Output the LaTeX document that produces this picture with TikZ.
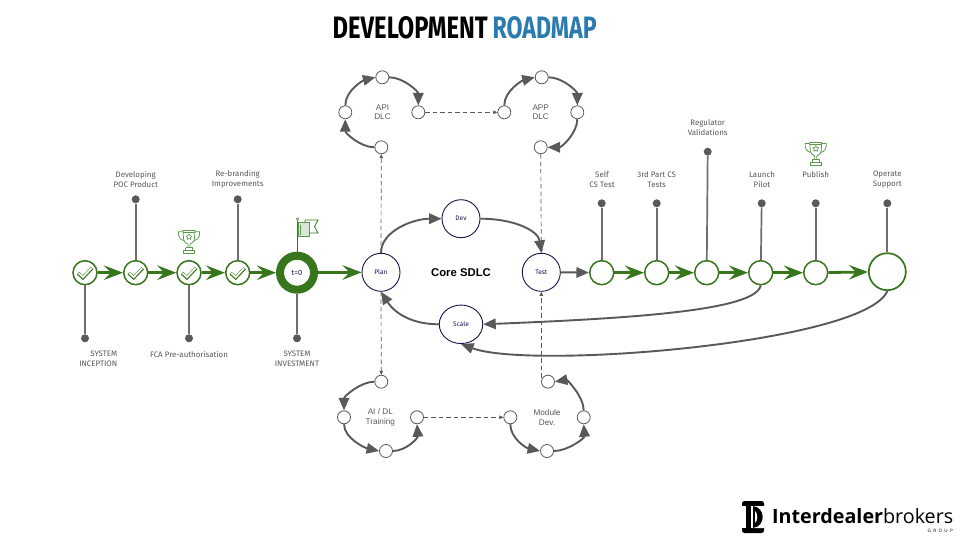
\documentclass[tikz,border=0pt]{standalone}
\usepackage{fontspec}
\usepackage{graphicx}
\setmainfont{Fira Sans}
\newfontfamily\arial{Liberation Sans}
\newfontfamily\logofont{Open Sans}
\usetikzlibrary{arrows.meta,shapes.geometric}
\definecolor{grn}{HTML}{38761D}
\definecolor{lgrn}{HTML}{5E9A4C}
\definecolor{gry}{HTML}{595959}
\definecolor{pin}{HTML}{6E6E6E}
\definecolor{navy}{HTML}{20124D}
\definecolor{blu}{HTML}{2A7CB0}
\tikzset{
  mile/.style={circle,draw=grn,fill=white,line width=1.5pt,minimum size=24pt,inner sep=0pt},
  bigmile/.style={circle,draw=grn,fill=white,line width=1.7pt,minimum size=37pt,inner sep=0pt},
  ring/.style={circle,draw=grn,fill=white,line width=8pt,minimum size=34pt,inner sep=0pt,text=navy,font=\fontsize{7.5}{8}\selectfont},
  dot/.style={circle,fill=gry,minimum size=8pt,inner sep=0pt},
  pinline/.style={draw=pin,line width=1.7pt},
  garrow/.style={draw=grn,line width=2.8pt,-{Stealth[length=19pt,width=14.5pt,inset=7pt]}},
  sdlc/.style={circle,draw=navy,fill=white,line width=.9pt,minimum size=38pt,inner sep=0pt,text=navy,font=\fontsize{6.6}{7}\selectfont},
  sub/.style={circle,draw=gry,fill=white,line width=.8pt,minimum size=13pt,inner sep=0pt},
  garc/.style={draw=gry,line width=1.9pt,-{Triangle[length=12.5pt,width=10.5pt]}},
  dasharr/.style={draw=gry,line width=.7pt,dash pattern=on 4.5pt off 3pt,-{Triangle[length=4pt,width=3.5pt]}},
  lbl/.style={text=gry,font=\fontsize{7.9}{10}\selectfont,align=center,inner sep=0pt},
  alb/.style={text=gry,font=\arial\fontsize{8.2}{9.8}\selectfont,align=center,inner sep=0pt},
  trophyline/.style={draw=lgrn,line width=.8pt,line join=round},
}
\newcommand{\trophyicon}[2]{%
  \begin{scope}[shift={(#1,#2)}]
    \draw[trophyline] (-6,-11.5) -- (6,-11.5) (-6,-9.5) -- (6,-9.5);
    \draw[trophyline] (-6,-11.5) -- (-5.5,-3) .. controls (-5,1) and (-2,1.5) .. (-1,2.5) -- (-1,6) (6,-11.5) -- (5.5,-3) .. controls (5,1) and (2,1.5) .. (1,2.5) -- (1,6);
    \draw[trophyline] (-6,-10) -- (-10.5,-10) .. controls (-11,-5) and (-9,-2) .. (-5,-1) (6,-10) -- (10.5,-10) .. controls (11,-5) and (9,-2) .. (5,-1);
    \draw[trophyline] (-3.5,6) -- (3.5,6) -- (3.5,9) (-3.5,6) -- (-3.5,9) (-5.5,9) rectangle (5.5,12);
    \draw[trophyline,line width=.6pt] (0,-8) -- (1,-6) -- (3,-5.7) -- (1.5,-4.2) -- (1.9,-2.2) -- (0,-3.2) -- (-1.9,-2.2) -- (-1.5,-4.2) -- (-3,-5.7) -- (-1,-6) -- cycle;
  \end{scope}}
\newcommand{\checkicon}[2]{%
  \begin{scope}[shift={(#1,#2)}]
    \draw[grn,line width=3.4pt,line join=miter] (-7,0.5) -- (-2,5) -- (7,-4.5);
    \draw[white,line width=1.7pt,line join=miter] (-6.4,0.5) -- (-2,4.5) -- (6.4,-4.5);
  \end{scope}}
\begin{document}
\begin{tikzpicture}[x=1pt,y=-1pt]
\useasboundingbox (0,0) rectangle (960,540);
\fill[white] (0,0) rectangle (960,540);

% title
\node[anchor=west,inner sep=0pt] (t1) at (332.5,28) {\resizebox{155pt}{22pt}{\bfseries DEVELOPMENT}};
\node[anchor=west,inner sep=0pt,text=blu] (t2) at (492.5,28) {\resizebox{104pt}{22pt}{\bfseries ROADMAP}};

% left milestones
\node[mile] (a1) at (85,272.7) {};
\node[mile] (a2) at (135.7,272.7) {};
\node[mile] (a3) at (189,272.7) {};
\node[mile] (a4) at (237.7,272.7) {};
\node[ring] (t0) at (297,272.7) {t=0};
\node[dot] (pa1) at (85,338.3) {};
\node[dot] (pa2) at (135.7,199.3) {};
\node[dot] (pa3) at (189,338.3) {};
\node[dot] (pa4) at (237.7,199.3) {};
\node[dot] (pt0) at (297,338.3) {};
\draw[pinline] (pa1) -- (a1);
\draw[pinline] (pa2) -- (a2);
\draw[pinline] (pa3) -- (a3);
\draw[pinline] (pa4) -- (a4);
\draw[pinline] (pt0) -- (t0);
\checkicon{85}{272.7}\checkicon{135.7}{272.7}\checkicon{189}{272.7}\checkicon{237.7}{272.7}
\draw[garrow] (a1) -- (a2);
\draw[garrow] (a2) -- (a3);
\draw[garrow] (a3) -- (a4);
\draw[garrow] (a4) -- (t0);

% labels left
\node[lbl,align=right,anchor=east] (la1) at (117.5,359) {SYSTEM\\INCEPTION};
\node[lbl] (la2) at (135.7,179.3) {Developing\\POC Product};
\node[lbl] (la3) at (189,354) {FCA Pre-authorisation};
\node[lbl] (la4) at (237.7,179.3) {Re-branding\\Improvements};
\node[lbl] (lt0) at (297,359) {SYSTEM\\INVESTMENT};

% icons
\trophyicon{189}{241.7}
\trophyicon{815.7}{153.5}
\draw[grn,line width=1pt] (297.5,221) -- (297.5,251.5);
\draw[lgrn,line width=.7pt] (297.5,219.2) circle (1.3);
\fill[lgrn!25] (299,223) rectangle (309,236);
\draw[lgrn,line width=.8pt] (298,222.5) rectangle (309,236);
\draw[grn,line width=.8pt] (305,222.5) -- (305,220) -- (318,220) -- (314.5,226.5) -- (318,233) -- (309,233);
\draw[lgrn,line width=.8pt] (300.5,225) -- (300.5,235);

% core SDLC
\node[sdlc] (plan) at (381,272.3) {Plan};
\node[sdlc] (dev) at (461,218.7) {Dev};
\node[sdlc] (test) at (541.3,272.3) {Test};
\node[sdlc,ellipse,minimum width=43.5pt,minimum height=38.5pt] (scale) at (461,324.3) {Scale};
\node[inner sep=0pt,font=\arial\bfseries\fontsize{11.3}{13}\selectfont] (core) at (461,272.5) {Core SDLC};

% sub loops
\node[sub] (ab) at (381.3,147.3) {};
\node[sub] (al) at (345.3,112.3) {};
\node[sub] (at) at (382.3,77.3) {};
\node[sub] (ar) at (418.3,112.3) {};
\node[sub] (pl) at (504.3,112.3) {};
\node[sub] (pt) at (541.7,77.3) {};
\node[sub] (pr) at (577.3,112.3) {};
\node[sub] (pb) at (540.7,147.3) {};
\node[sub] (it) at (381.3,381.7) {};
\node[sub] (il) at (344,417.3) {};
\node[sub] (ib) at (386,451) {};
\node[sub] (ir) at (417,417.3) {};
\node[sub] (ml) at (510.3,417.3) {};
\node[sub] (mb) at (547,451) {};
\node[sub] (mr) at (583.7,417.3) {};
\node[sub] (mt) at (548,381.7) {};
\coordinate (mtx) at (541.3,377.5);
\node[alb] (lapi) at (382.5,112.3) {API\\DLC};
\node[alb] (lapp) at (540.7,112.3) {APP\\DLC};
\node[alb] (lai) at (380.3,417.3) {AI / DL\\Training};
\node[alb] (lmod) at (547,417.3) {Module\\Dev.};

\draw[garc] (ab.west) .. controls +(-14,0) and +(0,14) .. (al.south);
\draw[garc] (al.north) .. controls +(0,-15) and +(-12,3) .. (at.west);
\draw[garc] (at.east) .. controls +(14,0) and +(0,-14) .. (ar.north);
\draw[garc] (pl.north) .. controls +(0,-15) and +(-12,3) .. (pt.west);
\draw[garc] (pt.east) .. controls +(14,0) and +(0,-14) .. (pr.north);
\draw[garc] (pr.south) .. controls +(0,14) and +(14,0) .. (pb.east);
\draw[garc] (it.west) .. controls +(-14,0) and +(0,-14) .. (il.north);
\draw[garc] (il.south) .. controls +(0,14) and +(-14,-3) .. (ib.west);
\draw[garc] (ib.east) .. controls +(13,0) and +(1,14) .. (ir.south);
\draw[garc] (ml.south) .. controls +(0,14) and +(-14,-3) .. (mb.west);
\draw[garc] (mb.east) .. controls +(14,0) and +(1,14) .. (mr.south);
\draw[garc] (mr.north) .. controls +(0,-14) and +(12,-2) .. (mt.east);

\draw[dasharr] (ar) -- (pl);
\draw[dasharr] (ir) -- (ml);
\draw[dasharr] (plan.north) -- (ab);
\draw[dasharr] (plan.south) -- (it);
\draw[dasharr] (pb) -- (test.north);
\draw[dasharr] (mtx) -- (test.south);

\draw[garc] (plan.north) .. controls +(0,-22) and +(-28,0) .. (dev.west);
\draw[garc] (dev.east) .. controls +(34,0) and +(-3,-22) .. (test.north);
\draw[garc] (scale.west) .. controls +(-26,0) and +(14,22) .. (plan.south);

% right milestones
\node[mile] (b1) at (601.7,272.7) {};
\node[mile] (b2) at (656.7,272.7) {};
\node[mile] (b3) at (706.7,272.7) {};
\node[mile] (b4) at (760.7,272.7) {};
\node[mile] (b5) at (815.7,272.7) {};
\node[bigmile] (b6) at (887.3,271.7) {};
\node[dot] (pb1) at (601.7,203.3) {};
\node[dot] (pb2) at (656.7,203.3) {};
\node[dot] (pb3) at (707.7,151.7) {};
\node[dot] (pb4) at (761.7,203.3) {};
\node[dot] (pb5) at (815.7,203.3) {};
\node[dot] (pb6) at (887.3,203.3) {};
\draw[pinline] (pb1) -- (b1);
\draw[pinline] (pb2) -- (b2);
\draw[pinline] (pb3) -- (b3);
\draw[pinline] (pb4) -- (b4);
\draw[pinline] (pb5) -- (b5);
\draw[pinline] (pb6) -- (b6);
\draw[garrow] (t0) -- (plan);
\draw[garrow] (b1) -- (b2);
\draw[garrow] (b2) -- (b3);
\draw[garrow] (b3) -- (b4);
\draw[garrow] (b4) -- (b5);
\draw[garrow] (b5) -- (b6);
\draw[garc] (test.east) -- (b1);
\draw[garc] (b4.south) .. controls +(-5,25) and +(150,-6) .. (scale.east);
\draw[garc] (b6.south) .. controls +(-22,52) and +(70,26) .. (scale.south);

\node[lbl] (lb1) at (602,179.7) {Self\\CS Test};
\node[lbl] (lb2) at (656.7,179.7) {3rd Part CS\\Tests};
\node[lbl] (lb3) at (707.7,128) {Regulator\\Validations};
\node[lbl] (lb4) at (762,179.7) {Launch\\Pilot};
\node[lbl] (lb5) at (815.7,174.7) {Publish};
\node[lbl] (lb6) at (887.3,179.7) {Operate\\Support};

% logo
\fill[black,rounded corners=2.5pt] (742,501) rectangle (764,533);
\fill[white] (742,506) rectangle (746,528);
\fill[white] (751,506) -- (752.8,506) -- (752.8,528) -- (751,528) -- cycle;
\fill[white] (764.5,506) -- (753,506) .. controls (766,507) and (766,527) .. (753,528) -- (764.5,528) -- cycle;
\fill[white] (755,511) .. controls (758,513) and (758,521) .. (755,523) -- cycle;
\node[anchor=south west,inner sep=0pt] (logo) at (772,524.3) {\resizebox{181pt}{!}{\logofont\fontsize{16}{16}\selectfont\bfseries Interdealer\mdseries brokers}};
\node[anchor=east,inner sep=0pt,font=\logofont\fontsize{4.6}{5}\selectfont] (group) at (953,531) {G\,\,\,R\,\,\,O\,\,\,U\,\,\,P};
\end{tikzpicture}
\end{document}
